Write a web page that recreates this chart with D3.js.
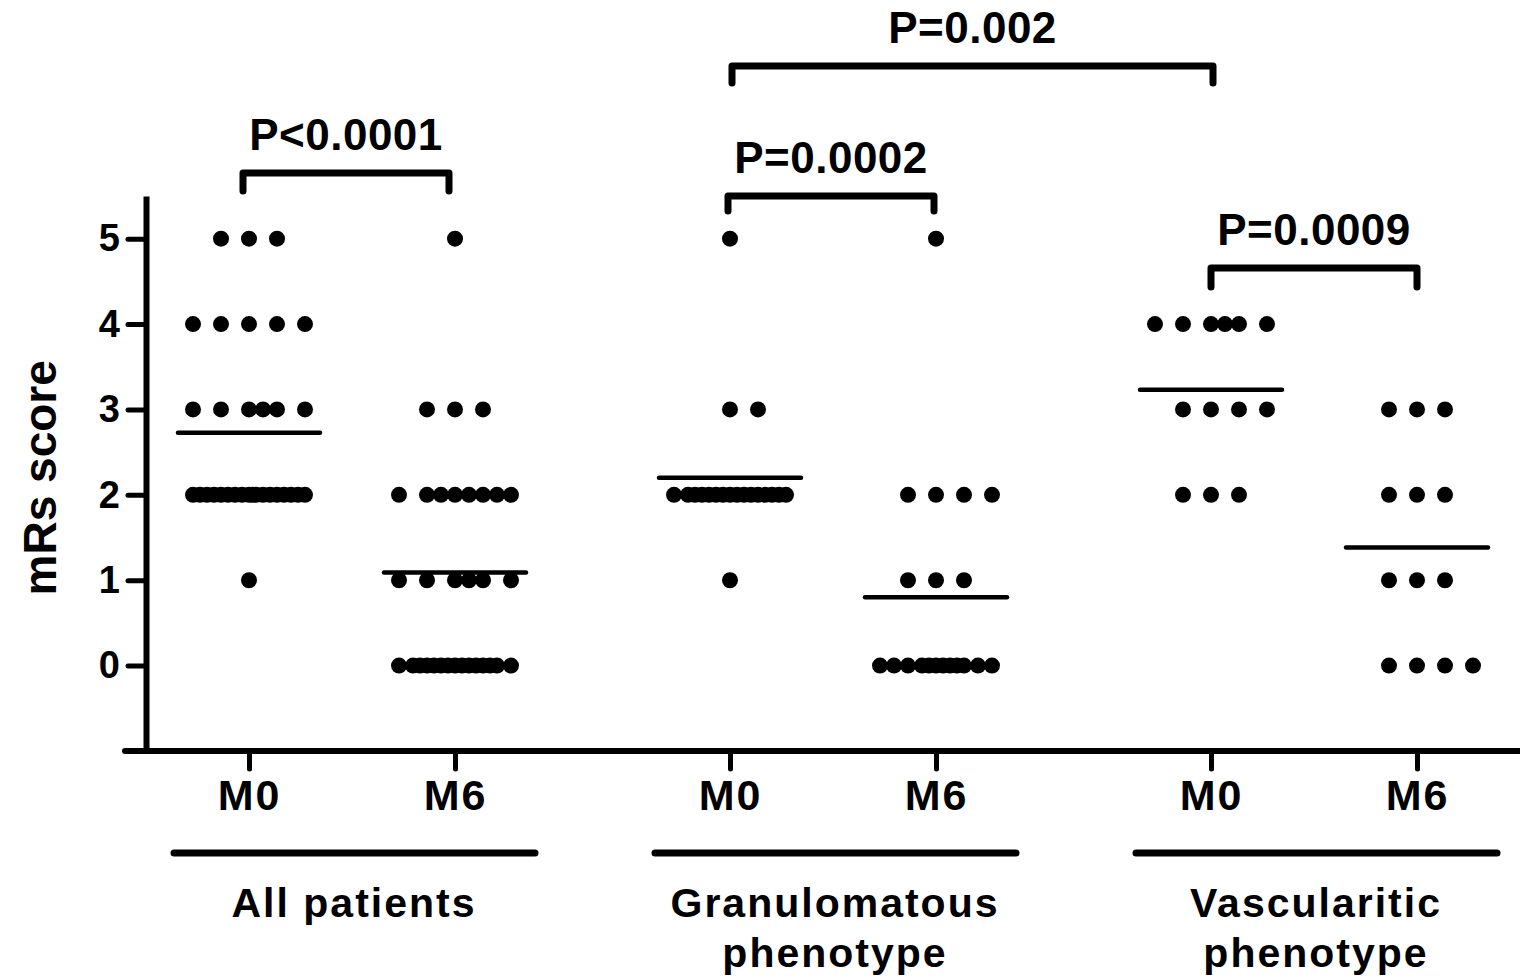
<!DOCTYPE html>
<html>
<head>
<meta charset="utf-8">
<script src="https://cdn.jsdelivr.net/npm/d3@7"></script>
<style>
    body { margin: 0; background: #fff; }
    svg { display: block; font-family: "Liberation Sans", Arial, sans-serif; font-weight: bold; }
</style>
</head>
<body>
<svg id="chart" width="1520" height="980"></svg>
<script>
// mRs scores, counts of patients at each score level
const scoreLevels = [0, 1, 2, 3, 4, 5];
const groups = ["All patients", "Granulomatous phenotype", "Vascularitic phenotype"];
const groupLines = [["All patients"], ["Granulomatous", "phenotype"], ["Vascularitic", "phenotype"]];
const timepoints = ["M0", "M6"];

const allM0 = [0, 1, 18, 6, 5, 3];
const allM6 = [15, 6, 8, 3, 0, 1];
const granM0 = [0, 1, 16, 2, 0, 1];
const granM6 = [12, 3, 4, 0, 0, 1];
const vascM0 = [0, 0, 3, 4, 6, 0];
const vascM6 = [4, 3, 3, 3, 0, 0];

const comparisons = [
    { from: ["All patients", "M0"], to: ["All patients", "M6"], label: "P<0.0001" },
    { from: ["Granulomatous phenotype", "M0"], to: ["Granulomatous phenotype", "M6"], label: "P=0.0002" },
    { from: ["Granulomatous phenotype", "M0"], to: ["Vascularitic phenotype", "M0"], label: "P=0.002" },
    { from: ["Vascularitic phenotype", "M0"], to: ["Vascularitic phenotype", "M6"], label: "P=0.0009" }
];

const series = [
    { group: groups[0], time: "M0", counts: allM0 },
    { group: groups[0], time: "M6", counts: allM6 },
    { group: groups[1], time: "M0", counts: granM0 },
    { group: groups[1], time: "M6", counts: granM6 },
    { group: groups[2], time: "M0", counts: vascM0 },
    { group: groups[2], time: "M6", counts: vascM6 }
];

// layout
const bracketY = [173, 196, 66, 268];
const bracketLeg = [18, 15, 17, 19];
const bracketShift = [-6, -2, 2, 0];
const dotR = 8;
const dotStep = 28;
const meanHalf = 71;

const svg = d3.select("#chart");

const y = d3.scaleLinear().domain([-1, 5.5]).range([751, 196]);
const xGroup = d3.scaleBand().domain(groups).range([111.5, 1554.5]);
const xTime = d3.scalePoint().domain(timepoints).range([-103, 103]);
const xPos = (g, t) => xGroup(g) + xGroup.bandwidth() / 2 + xTime(t);

const keys = series.map(s => s.group + "|" + s.time);
const xKey = d3.scaleOrdinal().domain(keys).range(series.map(s => xPos(s.group, s.time)));

// spread of dots sharing one score
function rowOffsets(n) {
    if (n <= 5) {
        const start = -Math.floor((n - 1) / 2) * dotStep;
        return d3.range(n).map(i => start + i * dotStep);
    }
    const out = [-56, -28, 0, 28, 56];
    let div = 2;
    while (out.length < n) {
        const s = dotStep / div;
        const extra = [];
        for (let v = s; v < 56; v += 2 * s) extra.push(v);
        extra.forEach(v => { out.push(v); out.push(-v); });
        div *= 2;
    }
    return out.slice(0, n);
}

// y axis
const yAxis = svg.append("g")
    .attr("transform", `translate(146,0)`)
    .call(d3.axisLeft(y).tickValues(scoreLevels).tickFormat(d3.format("d"))
        .tickSize(18).tickSizeOuter(0).tickPadding(8));
yAxis.select(".domain").attr("stroke-width", 6).attr("stroke", "#000");
yAxis.selectAll(".tick line").attr("stroke-width", 5).attr("stroke-linecap", "round");
yAxis.selectAll(".tick text")
    .attr("font-size", 38).attr("font-weight", "bold").attr("font-family", "Liberation Sans, Arial, sans-serif")
    .attr("fill", "#000");

// x axis baseline
svg.append("line")
    .attr("x1", 125).attr("x2", 1520)
    .attr("y1", y(-1)).attr("y2", y(-1))
    .attr("stroke", "#000").attr("stroke-width", 6).attr("stroke-linecap", "round");

const xAxis = svg.append("g")
    .attr("transform", `translate(0,${y(-1)})`)
    .call(d3.axisBottom(xKey).tickSize(18).tickPadding(10).tickFormat(k => k.split("|")[1]));
xAxis.select(".domain").remove();
xAxis.selectAll(".tick line").attr("stroke-width", 5).attr("stroke-linecap", "round");
xAxis.selectAll(".tick text")
    .attr("font-size", 43).attr("font-weight", "bold").attr("letter-spacing", 2)
    .attr("font-family", "Liberation Sans, Arial, sans-serif").attr("fill", "#000");

// y title
svg.append("text")
    .attr("transform", `translate(56,${y(2.2)}) rotate(-90)`)
    .attr("text-anchor", "middle")
    .attr("font-size", 46)
    .text("mRs score");

// group bars and labels
groups.forEach((g, i) => {
    const cx = xGroup(g) + xGroup.bandwidth() / 2;
    svg.append("line")
        .attr("x1", cx - 178).attr("x2", cx + 183)
        .attr("y1", 853).attr("y2", 853)
        .attr("stroke", "#000").attr("stroke-width", 7).attr("stroke-linecap", "round");
    const t = svg.append("text")
        .attr("text-anchor", "middle")
        .attr("font-size", 41)
        .attr("letter-spacing", 2);
    groupLines[i].forEach((line, j) => {
        t.append("tspan").attr("x", cx + 2).attr("y", 917 + j * 50).text(line);
    });
});

// dots
const dots = [];
series.forEach(s => {
    s.counts.forEach((n, k) => {
        rowOffsets(n).forEach(off => {
            dots.push({ x: xPos(s.group, s.time) + off, score: scoreLevels[k] });
        });
    });
});
svg.append("g").selectAll("circle")
    .data(dots)
    .join("circle")
    .attr("cx", d => d.x)
    .attr("cy", d => y(d.score))
    .attr("r", dotR)
    .attr("fill", "#000");

// mean lines
series.forEach(s => {
    const total = d3.sum(s.counts);
    const mean = d3.sum(s.counts, (n, k) => n * scoreLevels[k]) / total;
    const cx = xPos(s.group, s.time);
    svg.append("line")
        .attr("x1", cx - meanHalf).attr("x2", cx + meanHalf)
        .attr("y1", y(mean)).attr("y2", y(mean))
        .attr("stroke", "#000").attr("stroke-width", 4.5).attr("stroke-linecap", "round");
});

// significance brackets
comparisons.forEach((c, i) => {
    const x1 = xPos(c.from[0], c.from[1]) + bracketShift[i];
    const x2 = xPos(c.to[0], c.to[1]) + bracketShift[i];
    const by = bracketY[i];
    svg.append("path")
        .attr("d", `M${x1},${by + bracketLeg[i]}V${by}H${x2}V${by + bracketLeg[i]}`)
        .attr("fill", "none").attr("stroke", "#000").attr("stroke-width", 7)
        .attr("stroke-linecap", "round").attr("stroke-linejoin", "round");
    svg.append("text")
        .attr("x", (x1 + x2) / 2)
        .attr("y", by - 23)
        .attr("text-anchor", "middle")
        .attr("font-size", 44)
        .attr("letter-spacing", 0.5)
        .text(c.label);
});
</script>
</body>
</html>
